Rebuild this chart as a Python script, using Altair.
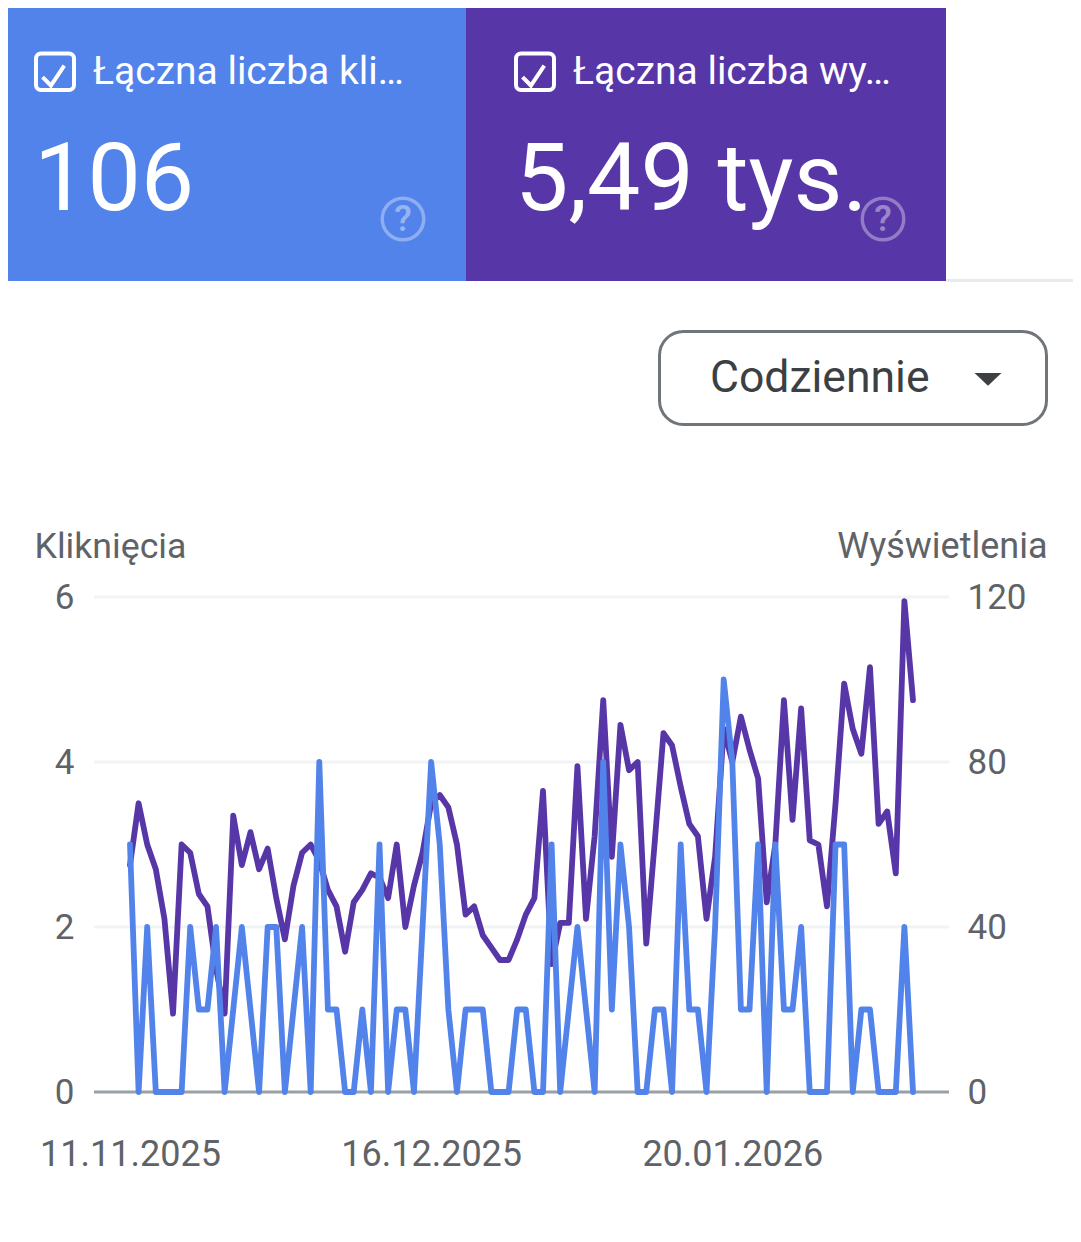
import altair as alt
import pandas as pd

# ---------- data ----------
START_DATE = "2025-11-11"
clicks = [3,0,2,0,0,0,0,2,1,1,
          2,0,1,2,1,0,2,2,0,1,
          2,0,4,1,1,0,0,1,0,3,
          0,1,1,0,2,4,3,1,0,1,
          1,1,0,0,0,1,1,0,0,3,
          0,1,2,1,0,4,1,3,2,0,
          0,1,1,0,3,1,1,0,2,5,
          4,1,1,3,0,3,1,1,2,0,
          0,0,3,3,0,1,1,0,0,0,
          2,0]
impressions = [55,70,60,54,42,19,60,58,48,45,
               30,19,67,55,63,54,59,47,37,50,
               58,60,56,49,45,34,46,49,53,52,
               47,60,40,50,58,70,72,69,60,43,
               45,38,35,32,32,37,43,47,73,31,
               41,41,79,42,62,95,57,89,78,80,
               36,61,87,84,74,65,62,42,57,88,
               80,91,83,76,46,60,95,66,93,61,
               60,45,70,99,88,82,103,65,68,53,
               119,95]
left_ticks = [0, 2, 4, 6]
right_ticks = [0, 40, 80, 120]
gridlines = [2, 4, 6]
baseline = [0]
tick_dates = [(2025, 11, 11), (2025, 12, 16), (2026, 1, 20)]
card_titles = ["Łączna liczba kli…", "Łączna liczba wy…"]
card_values = ["106", "5,49 tys."]
axis_titles = ["Kliknięcia", "Wyświetlenia"]
button_label = "Codziennie"

BLUE = "#5283EA"
PURPLE = "#5736A8"
GREY = "#5F6368"
FONT = "Roboto"
W, H = 1065, 1226
OX, OY = 8, 8   # page margin

def px(v): return alt.value(v - OX)
def py(v): return alt.value(v - OY)

dates = pd.date_range(START_DATE, periods=len(clicks), freq="D")
series = pd.DataFrame({"data": dates, "clicks": clicks, "impressions": impressions})

x_axis = alt.Axis(
    values=[alt.DateTime(year=y, month=m, date=d) for y, m, d in tick_dates],
    format="%d.%m.%Y", title=None, domain=False, ticks=False, grid=False,
    labelFont=FONT, labelFontSize=36, labelColor=GREY, labelLimit=400,
    labelBaseline="alphabetic", labelPadding=73, labelOverlap=False,
    labelFlush=False, labelBound=False, offset=-(H - (1092 - OY)),
)
x_enc = alt.X("data:T", axis=x_axis, scale=alt.Scale(range=[130 - OX, 913 - OX], nice=False))

y_range = [1092 - OY, 597 - OY]

left_axis = alt.Axis(
    values=left_ticks, orient="left", offset=-(74 - OX), domain=False, ticks=False, grid=False,
    tickSize=0, labelPadding=0, labelFont=FONT, labelFontSize=35, labelColor=GREY,
    labelBound=False, labelFlush=False, labelOverlap=False,
    title=axis_titles[0], titleAngle=0, titleAlign="left", titleBaseline="alphabetic",
    titleFont=FONT, titleFontSize=35.7, titleFontWeight="normal", titleColor=GREY,
    titleX=34 - 74, titleY=557 - OY,
)
right_axis = alt.Axis(
    values=right_ticks, orient="right", offset=-(W - (967 - OX)), domain=False, ticks=False, grid=False,
    tickSize=0, labelPadding=0, labelFont=FONT, labelFontSize=35, labelColor=GREY,
    labelBound=False, labelFlush=False, labelOverlap=False,
    title=axis_titles[1], titleAngle=0, titleAlign="right", titleBaseline="alphabetic",
    titleFont=FONT, titleFontSize=36, titleFontWeight="normal", titleColor=GREY,
    titleX=1047 - 967, titleY=557 - OY,
)

grid = alt.Chart(pd.DataFrame({"v": gridlines})).mark_rule(color="#F1F3F4", strokeWidth=3).encode(
    y=alt.Y("v:Q", axis=None, scale=alt.Scale(domain=[0, 6], range=y_range)),
    x=px(94), x2=px(949),
)
zero = alt.Chart(pd.DataFrame({"v": baseline})).mark_rule(color="#9AA0A6", strokeWidth=3).encode(
    y=alt.Y("v:Q", axis=None, scale=alt.Scale(domain=[0, 6], range=y_range)),
    x=px(94), x2=px(949),
)
line_imp = alt.Chart(series).mark_line(color=PURPLE, strokeWidth=5.8, strokeJoin="round", strokeCap="round").encode(
    x=x_enc,
    y=alt.Y("impressions:Q", axis=right_axis, scale=alt.Scale(domain=[0, 120], range=y_range)),
)
line_clk = alt.Chart(series).mark_line(color=BLUE, strokeWidth=5.8, strokeJoin="round", strokeCap="round").encode(
    x=x_enc,
    y=alt.Y("clicks:Q", axis=left_axis, scale=alt.Scale(domain=[0, 6], range=y_range)),
)

# ---------- interface furniture around the plot ----------
def box(x0, x1, y0, y1, **kw):
    return alt.Chart().mark_rect(**kw).encode(x=px(x0), x2=px(x1), y=py(y0), y2=py(y1))

def label(txt, x, y, size, color="#FFFFFF", align="left", baseline="alphabetic", **kw):
    return alt.Chart().mark_text(align=align, baseline=baseline, font=FONT, fontSize=size,
                                 color=color, **kw).encode(x=px(x), y=py(y), text=alt.value(txt))

def symbol(shape, x, y, size, **kw):
    return alt.Chart().mark_point(shape=shape, size=size, **kw).encode(x=px(x), y=py(y))

CHECK = "M-0.98,0.1 L-0.23,0.85 L0.96,-0.92"
ARROW = "M-1,-0.45 L1,-0.45 L0,0.5 Z"

furniture = [
    box(8, 466, 8, 281, color=BLUE),
    box(466, 946, 8, 281, color=PURPLE),
    box(946, 1073, 279, 282, color="#E8EAED"),
    # checkboxes
    box(36, 74, 53.5, 90, fill=None, fillOpacity=0, stroke="#FFFFFF", strokeWidth=4, cornerRadius=5),
    box(516, 554, 53.5, 90, fill=None, fillOpacity=0, stroke="#FFFFFF", strokeWidth=4, cornerRadius=5),
    symbol(CHECK, 53.5, 76, 500, stroke="#FFFFFF", strokeWidth=4, filled=False, opacity=1),
    symbol(CHECK, 533.5, 76, 500, stroke="#FFFFFF", strokeWidth=4, filled=False, opacity=1),
    label(card_titles[0], 93, 84, 39),
    label(card_titles[1], 573, 84, 39),
    label(card_values[0], 34, 210, 95),
    label(card_values[1], 515, 210, 95),
    # help icons
    symbol("circle", 403, 219, 1722, stroke="#FFFFFF", strokeWidth=3.5, filled=False, opacity=0.35),
    symbol("circle", 883, 219, 1722, stroke="#FFFFFF", strokeWidth=3.5, filled=False, opacity=0.35),
    label("?", 403, 220, 36, align="center", baseline="middle", opacity=0.4, fontWeight=500),
    label("?", 883, 220, 36, align="center", baseline="middle", opacity=0.4, fontWeight=500),
    # period selector
    box(659.5, 1046.5, 331.5, 424.5, fill="#FFFFFF", stroke="#70757A", strokeWidth=3, cornerRadius=24),
    label(button_label, 710, 392, 44.5, color="#3C4043"),
    symbol(ARROW, 988, 379, 729, fill="#3C4043", filled=True, stroke=None, opacity=1),
]

chart = alt.layer(
    *furniture, grid, zero, line_imp, line_clk
).resolve_scale(y="independent").properties(
    width=W, height=H, padding=0, background="#FFFFFF",
    autosize=alt.AutoSizeParams(type="none"),
).configure_view(stroke=None)

chart.save("out.html", embed_options={"renderer": "svg", "actions": False})
